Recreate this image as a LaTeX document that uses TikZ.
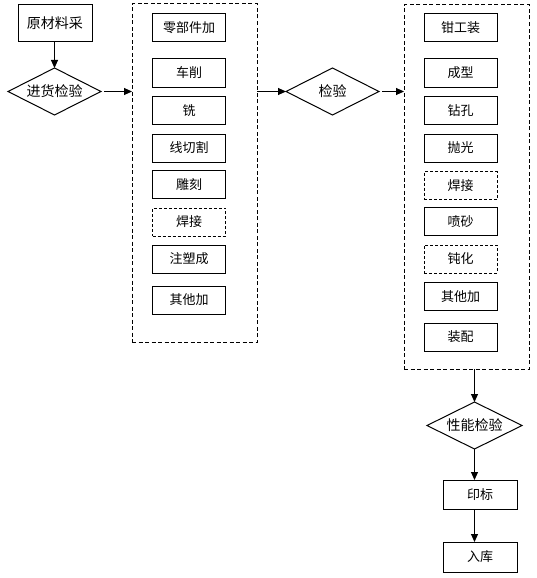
\documentclass[tikz,border=0pt]{standalone}
\usepackage{fontspec}
\setmainfont{Noto Sans CJK SC}
\usetikzlibrary{shapes.geometric,arrows.meta}
\tikzset{
  every node/.style={font=\fontsize{13}{13}\selectfont, inner sep=0pt, outer sep=0pt},
  box/.style={draw, line width=1pt, rectangle, minimum width=73pt, minimum height=28pt},
  dbox/.style={box, dash pattern=on 3pt off 2pt},
  frame/.style={draw, line width=1pt, rectangle, dash pattern=on 4pt off 2.5pt},
  dia/.style={draw, line width=1pt, diamond, aspect=2, minimum width=93pt, minimum height=47pt},
  arr/.style={draw, line width=1pt, -{Triangle[length=8pt,width=7pt]}},
}
\begin{document}
\begin{tikzpicture}[x=1pt,y=-1pt]
\useasboundingbox (0,0) rectangle (536,578);
% left column
\node[box, minimum width=74pt, minimum height=37pt, font=\fontsize{14}{14}\selectfont] (raw) at (55,23.5) {原材料采};
\node[dia, font=\fontsize{14}{14}\selectfont] (d1) at (54.5,91.5) {进货检验};
% frame 1
\node[frame, minimum width=125pt, minimum height=338pt] (f1) at (194.5,173) {};
\node[box] (a1) at (189,27.5) {零部件加};
\node[box] (a2) at (189,73) {车削};
\node[box] (a3) at (189,110.5) {铣};
\node[box] (a4) at (189,148) {线切割};
\node[box] (a5) at (189,184.5) {雕刻};
\node[dbox] (a6) at (189,222) {焊接};
\node[box] (a7) at (189,259) {注塑成};
\node[box] (a8) at (189,300) {其他加};
% middle diamond
\node[dia, font=\fontsize{14}{14}\selectfont] (d2) at (332.5,91.5) {检验};
% frame 2
\node[frame, minimum width=125pt, minimum height=364pt] (f2) at (466.5,187) {};
\node[box] (b1) at (460.5,27.5) {钳工装};
\node[box] (b2) at (460.5,73) {成型};
\node[box] (b3) at (460.5,110.5) {钻孔};
\node[box] (b4) at (460.5,148) {抛光};
\node[dbox] (b5) at (460.5,185.5) {焊接};
\node[box] (b6) at (460.5,221.5) {喷砂};
\node[dbox] (b7) at (460.5,259) {钝化};
\node[box] (b8) at (460.5,296.5) {其他加};
\node[box] (b9) at (460.5,337) {装配};
% bottom
\node[dia, minimum width=95pt, font=\fontsize{14}{14}\selectfont] (d3) at (474.5,425.5) {性能检验};
\node[box, minimum width=74pt, minimum height=29pt] (p1) at (480,494.5) {印标};
\node[box, minimum width=74pt, minimum height=30pt] (p2) at (480,557) {入库};
% arrows
\draw[arr] (raw.south -| d1.north) -- (d1.north);
\draw[arr] ([xshift=3pt]d1.east) -- (d1.east -| f1.west);
\draw[arr] (d2.west -| f1.east) -- (d2.west);
\draw[arr] ([xshift=3pt]d2.east) -- (d2.east -| f2.west);
\draw[arr] (f2.south -| d3.north) -- (d3.north);
\draw[arr] (d3.south) -- (d3.south |- p1.north);
\draw[arr] (p1.south -| d3.south) -- (d3.south |- p2.north);
\end{tikzpicture}
\end{document}
